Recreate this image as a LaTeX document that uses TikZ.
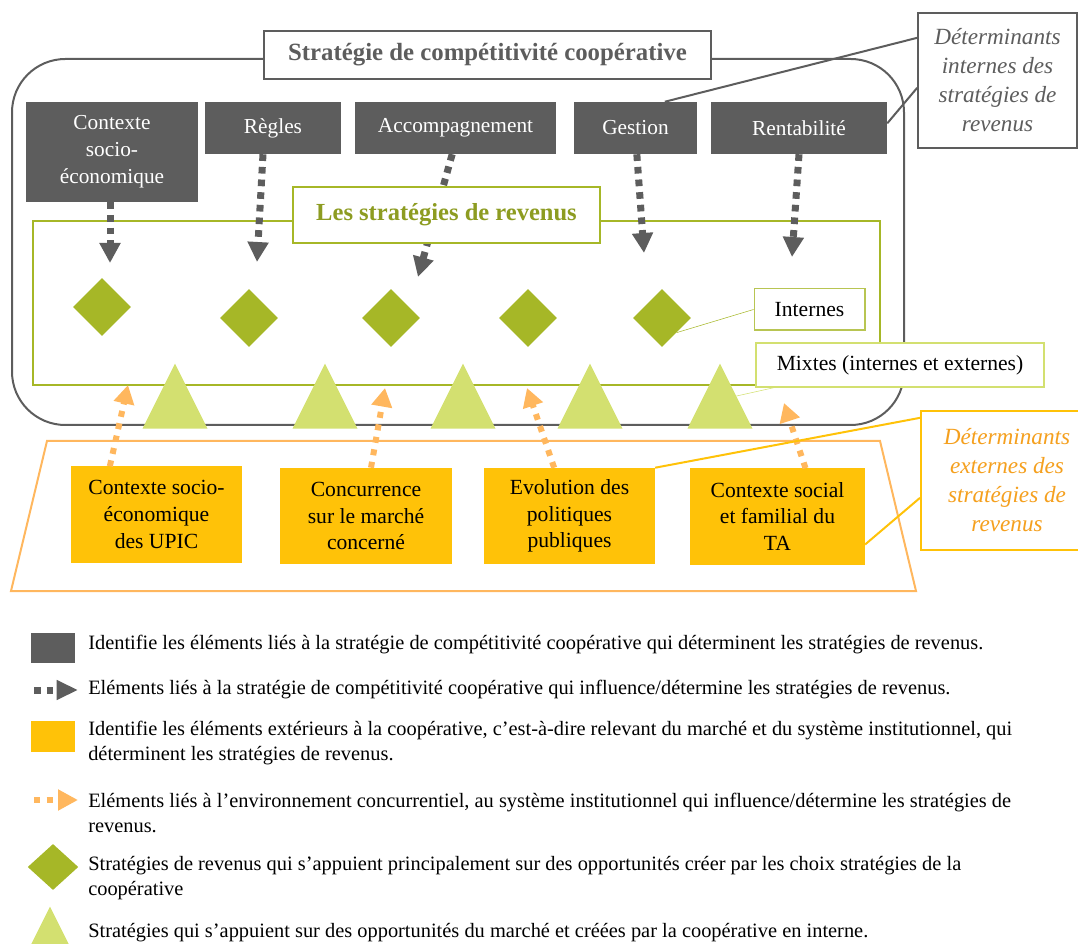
\documentclass[tikz,border=0pt]{standalone}
\usepackage{fontspec}
\setmainfont{Liberation Serif}
\usetikzlibrary{shapes.geometric, arrows.meta}
\definecolor{greybox}{HTML}{5D5D5D}
\definecolor{revgreen}{HTML}{A6B727}
\definecolor{mixgreen}{HTML}{D3E070}
\definecolor{extgold}{HTML}{FFC208}
\definecolor{extlight}{HTML}{FFB75E}
\definecolor{extorange}{HTML}{F5A01E}
\tikzstyle{intbox} = [rectangle, fill=greybox, text=white, align=center, inner sep=0, minimum height=39pt, font=\fontsize{16}{20.25}\selectfont]
\tikzstyle{extbox} = [rectangle, fill=extgold, text=black, align=center, inner sep=0, minimum width=128pt, minimum height=72pt, font=\fontsize{16.2}{20}\selectfont]
\tikzstyle{label} = [rectangle, draw, fill=white, align=center, inner sep=0]
\tikzstyle{revdiamond} = [diamond, fill=revgreen, inner sep=0, minimum width=43.5pt, minimum height=43.5pt]
\tikzstyle{mixtri} = [isosceles triangle, isosceles triangle stretches, shape border rotate=90, fill=mixgreen, inner sep=0, minimum width=48.75pt, minimum height=48.75pt, anchor=lower side]
\tikzstyle{intarrow} = [greybox, line width=5.25pt, dash pattern=on 5pt off 4.5pt, -{Triangle[length=15pt,width=15pt]}]
\tikzstyle{extarrow} = [extlight, line width=4.5pt, dash pattern=on 4.5pt off 5pt, -{Triangle[length=14pt,width=15pt]}]
\tikzstyle{legend} = [anchor=west, align=left, inner sep=0, font=\fontsize{15.3}{18.75}\selectfont]

\begin{document}
\begin{tikzpicture}[x=0.75pt, y=-0.75pt]
\useasboundingbox (0,0) rectangle (1078,944);

% cadres
\draw [greybox, line width=1.5pt, rounded corners=40pt] (12,59) rectangle (904,425);
\draw [revgreen, line width=1.5pt] (33,221) rectangle (880,385);
\draw [extlight, line width=1.5pt] (47,441) -- (880,441) -- (916,591) -- (11,591) -- cycle;

% determinants internes
\node (ctx) [intbox, minimum width=129pt, minimum height=75pt] at (112,152) {Contexte\\socio-\\économique};
\node (regles) [intbox, minimum width=102pt] at (273,128) {Règles};
\node (accomp) [intbox, minimum width=151pt] at (455.5,128) {Accompagnement};
\node (gestion) [intbox, minimum width=92pt] at (635.5,128) {Gestion};
\node (rent) [intbox, minimum width=132pt] at (799,128) {Rentabilité};

% determinants externes
\node (ext1) [extbox] at (156.5,514.5) {Contexte socio-\\économique\\des UPIC};
\node (ext2) [extbox, minimum width=129pt] at (366,516) {Concurrence\\sur le marché\\concerné};
\node (ext3) [extbox] at (569.5,516) {Evolution des\\politiques\\publiques};
\node (ext4) [extbox, minimum width=131pt] at (777.5,516.5) {Contexte social\\et familial du\\TA};

\coordinate (t1) at (110,263);
\coordinate (t2) at (257,262);
\coordinate (t3) at (418,277);
\coordinate (t4) at (644,253);
\coordinate (t5) at (792,257);
\draw [intarrow] ([xshift=-1.5pt]ctx.south) -- (t1);
\draw [intarrow] ([xshift=-7.5pt]regles.south) -- (t2);
\draw [intarrow] ([xshift=-2.5pt]accomp.south) -- (t3);
\draw [intarrow] ([xshift=1pt]gestion.south) -- (t4);
\draw [intarrow] (rent.south) -- (t5);

\coordinate (u1) at (128,385);
\coordinate (u2) at (385,388);
\coordinate (u3) at (527,388);
\coordinate (u4) at (784,403);
\draw [extarrow] ([xshift=-35pt]ext1.north) -- (u1);
\draw [extarrow] ([xshift=3.75pt]ext2.north) -- (u2);
\draw [extarrow] ([xshift=-11.5pt]ext3.north) -- (u3);
\draw [extarrow] ([xshift=21pt]ext4.north) -- (u4);

% titres
\node (titre) [label, draw=greybox, line width=1.5pt, text=greybox, font=\fontsize{18.6}{22}\selectfont\bfseries, minimum width=335pt, minimum height=36pt] at (487.5,55) {Stratégie de compétitivité coopérative};
\node (revenus) [label, draw=revgreen, line width=1.5pt, text=revgreen!85!black, font=\fontsize{18.4}{22}\selectfont\bfseries, minimum width=230pt, minimum height=42pt] at (446.5,215) {Les stratégies de revenus};
\node (detint) [label, draw=greybox, line width=1.5pt, text=greybox, font=\fontsize{17.4}{21.75}\selectfont\itshape, minimum width=119pt, minimum height=101pt] at (997.5,80.5) {Déterminants\\internes des\\stratégies de\\revenus};
\node (detext) [label, draw=extgold, line width=1.5pt, text=extorange, font=\fontsize{17.4}{21.75}\selectfont\itshape, minimum width=129pt, minimum height=104pt] at (1007,480.5) {Déterminants\\externes des\\stratégies de\\revenus};

% strategies
\node (d1) [revdiamond] at (102,307) {};
\node (d2) [revdiamond] at (249,318) {};
\node (d3) [revdiamond] at (391,318) {};
\node (d4) [revdiamond] at (528,318) {};
\node (d5) [revdiamond] at (662,318) {};
\node (m1) [mixtri] at (175,429) {};
\node (m2) [mixtri] at (325,429) {};
\node (m3) [mixtri] at (463,429) {};
\node (m4) [mixtri] at (590,429) {};
\node (m5) [mixtri] at (720,429) {};

\node (internes) [label, draw=revgreen!80, line width=1pt, minimum width=83pt, minimum height=31pt, font=\fontsize{16.2}{20}\selectfont] at (809.5,309.5) {Internes};
\node (mixtes) [label, draw=mixgreen, line width=1pt, minimum width=216pt, minimum height=33pt, font=\fontsize{16.2}{20}\selectfont] at (900,365) {Mixtes (internes et externes)};

\draw [revgreen] (internes.west) -- (d5.south east);
\draw [mixgreen] ([xshift=-94.5pt]mixtes.south) -- (m5.right side);
\draw [greybox, line width=1.5pt] ([xshift=22pt]gestion.north) -- ([yshift=32pt]detint.west);
\draw [greybox, line width=1.5pt] ([yshift=3.5pt]rent.east) -- ([yshift=-5.5pt]detint.west);
\draw [extgold, line width=1.5pt] (ext3.north east) -- ([yshift=47pt]detext.west);
\draw [extgold, line width=1.5pt] ([yshift=-21pt]ext4.east) -- ([yshift=-13pt]detext.west);

% legende
\node (lg1) [rectangle, fill=greybox, inner sep=0, minimum width=33pt, minimum height=22.5pt] at (53,648) {};
\node [legend] at (88,645) {Identifie les éléments liés à la stratégie de compétitivité coopérative qui déterminent les stratégies de revenus.};
\coordinate (la) at (34,690);
\coordinate (lb) at (78,690);
\draw [intarrow, -{Triangle[length=16pt,width=14pt]}] (la) -- (lb);
\node [legend] at (88,690) {Eléments liés à la stratégie de compétitivité coopérative qui influence/détermine les stratégies de revenus.};
\node (lg3) [rectangle, fill=extgold, inner sep=0, minimum width=33pt, minimum height=23pt] at (53,736.5) {};
\node [legend] at (88,743.5) {Identifie les éléments extérieurs à la coopérative, c’est-à-dire relevant du marché et du système institutionnel, qui\\déterminent les stratégies de revenus.};
\coordinate (lc) at (34,800);
\coordinate (ld) at (78,800);
\draw [extarrow, -{Triangle[length=15pt,width=15pt]}] (lc) -- (ld);
\node [legend] at (88,812.5) {Eléments liés à l’environnement concurrentiel, au système institutionnel qui influence/détermine les stratégies de\\revenus.};
\node (lg5) [diamond, fill=revgreen, inner sep=0, minimum width=38pt, minimum height=34.5pt] at (53,867) {};
\node [legend] at (88,878.5) {Stratégies de revenus qui s’appuient principalement sur des opportunités créer par les choix stratégies de la\\coopérative};
\node (lg6) [mixtri, anchor=apex, minimum width=40pt, minimum height=40pt] at (50,906) {};
\node [legend] at (88,933) {Stratégies qui s’appuient sur des opportunités du marché et créées par la coopérative en interne.};

\end{tikzpicture}
\end{document}
